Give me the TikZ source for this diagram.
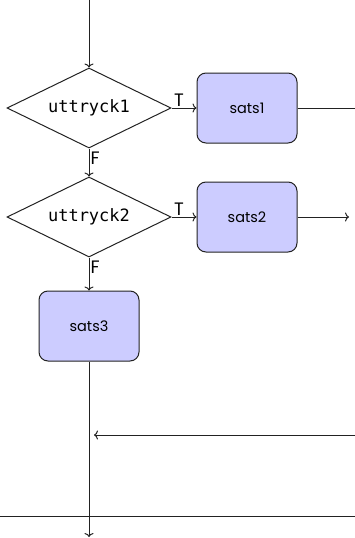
\documentclass[tikz,border=0pt]{standalone}
\usepackage{fontspec}
\setmainfont{Poppins}
\newfontfamily\monofam{DejaVu Sans Mono}
\usetikzlibrary{shapes.geometric,arrows.meta}
\definecolor{boxfill}{HTML}{CCCCFF}
\definecolor{linec}{HTML}{222222}
\tikzset{
  decision/.style={draw=linec, line width=1pt, diamond, aspect=2.05, inner sep=0pt,
    minimum width=164pt, minimum height=80pt, font=\monofam\fontsize{17}{19}\selectfont},
  stmt/.style={draw=linec, line width=1pt, fill=boxfill, rounded corners=9pt,
    minimum width=100pt, minimum height=70pt, inner sep=0pt, font=\fontsize{14.5}{16}\selectfont},
  conn/.style={draw=linec, line width=1pt},
  lab/.style={font=\fontsize{18}{20}\selectfont, inner sep=1pt},
  >={To[length=4pt,width=9pt]}
}
\begin{document}
\begin{tikzpicture}[x=1pt, y=-1pt]
\useasboundingbox (0,0) rectangle (355,538);
\coordinate (top) at (89,0);
\node[decision] (d1) at (89,108) {uttryck1};
\node[stmt] (s1) at (247,108) {sats1};
\coordinate (s1out) at (355,108);
\node[decision] (d2) at (89,217) {uttryck2};
\node[stmt] (s2) at (247,217) {sats2};
\coordinate (s2out) at (349,217);
\node[stmt] (s3) at (89,326) {sats3};
\coordinate (retin) at (355,435);
\coordinate (retend) at (94,435);
\coordinate (bot) at (89,537);
\coordinate (hl) at (0,516);
\coordinate (hr) at (355,516);

\draw[conn,->] (top) -- (d1.north);
\draw[conn,->] (d1.east) -- node[lab, above, pos=0.3]{T} (s1.west);
\draw[conn] (s1.east) -- (s1out);
\draw[conn,->] (d1.south) -- node[lab, right, pos=0.35]{F} (d2.north);
\draw[conn,->] (d2.east) -- node[lab, above, pos=0.3]{T} (s2.west);
\draw[conn,->] (s2.east) -- (s2out);
\draw[conn,->] (d2.south) -- node[lab, right, pos=0.3]{F} (s3.north);
\draw[conn,->] (s3.south) -- (bot);
\draw[conn,->] (retin) -- (retend);
\draw[conn] (hl) -- (hr);
\end{tikzpicture}
\end{document}
